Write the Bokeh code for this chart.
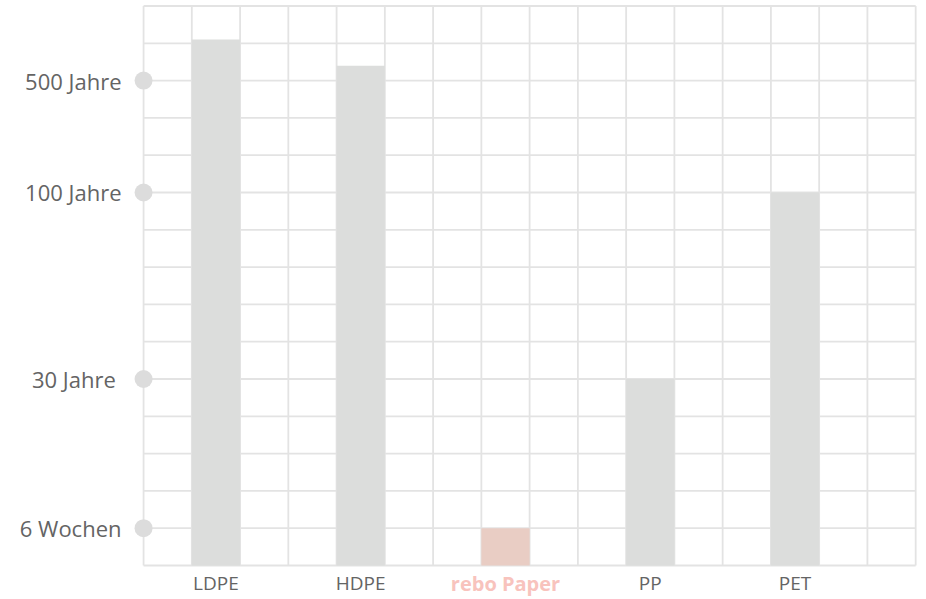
from bokeh.plotting import figure
from bokeh.models import FixedTicker, Range1d
from bokeh.core.properties import value
from bokeh.embed import file_html
from bokeh.resources import INLINE

# ---- data ----
categories = ["LDPE", "HDPE", "rebo Paper", "PP", "PET"]
# bar heights expressed on the chart's (non-linear) duration scale, in grid rows
values = [14.1, 13.4, 1.0, 5.0, 10.0]
tick_values = [1, 5, 10, 13]
tick_labels = ["6 Wochen", "30 Jahre\u00a0", "100 Jahre", "500 Jahre"]
highlight = "rebo Paper"

n_cols = 16
n_rows = 15

# ---- styles ----
GRID = "#e3e3e3"
BAR = "#dcdddc"
BAR_HI = "#e9cdc4"
LABEL_HI = "#f8c3bd"
TEXT = "#646464"
FONT = "Open Sans"

xs = [1.5 + 3 * i for i in range(len(categories))]
colors = [BAR_HI if c == highlight else BAR for c in categories]

p = figure(
    width=920, height=599,
    x_range=Range1d(-0.25, 16.10),
    y_range=Range1d(-0.9115, 15.147),
    output_backend="svg", toolbar_location=None,
    min_border_left=131, min_border_right=0, min_border_top=0, min_border_bottom=0,
)
p.outline_line_color = None
p.xgrid.visible = False
p.ygrid.visible = False
p.xaxis.visible = False

# grid drawn as segments so it stops at the chart area
vx = list(range(n_cols + 1))
p.segment(x0=vx, x1=vx, y0=[0] * len(vx), y1=[n_rows] * len(vx), line_color=GRID, line_width=1.8)
hy = list(range(n_rows + 1))
p.segment(x0=[0] * len(hy), x1=[n_cols] * len(hy), y0=hy, y1=hy, line_color=GRID, line_width=1.8)

p.vbar(x=xs, top=values, bottom=0, width=1.0, fill_color=colors, line_color=None)

# dots on the y axis
p.scatter(x=[0] * len(tick_values), y=tick_values, size=18, fill_color="#dcdcdc", line_color=None)

# y axis
ya = p.yaxis[0]
ya.ticker = FixedTicker(ticks=tick_values)
ya.major_label_overrides = {v: l for v, l in zip(tick_values, tick_labels)}
ya.axis_line_color = None
ya.major_tick_line_color = None
ya.minor_tick_line_color = None
ya.major_tick_in = 0
ya.major_tick_out = 0
ya.major_label_standoff = 10
ya.major_label_text_font = FONT
ya.major_label_text_font_size = "22px"
ya.major_label_text_color = TEXT

# category labels under the bars
label_y = -0.48
norm_x = [x for x, c in zip(xs, categories) if c != highlight]
norm_t = [c for c in categories if c != highlight]
p.text(x=norm_x, y=[label_y] * len(norm_x), text=norm_t, text_align="center", text_baseline="middle",
       text_font=value(FONT), text_font_size="19px", text_color=TEXT)
hx = xs[categories.index(highlight)]
p.text(x=[hx], y=[label_y], text=[highlight], text_align="center", text_baseline="middle",
       text_font=value(FONT), text_font_style="bold", text_font_size="20px", text_color=LABEL_HI)

open("out.html", "w").write(file_html(p, INLINE))
